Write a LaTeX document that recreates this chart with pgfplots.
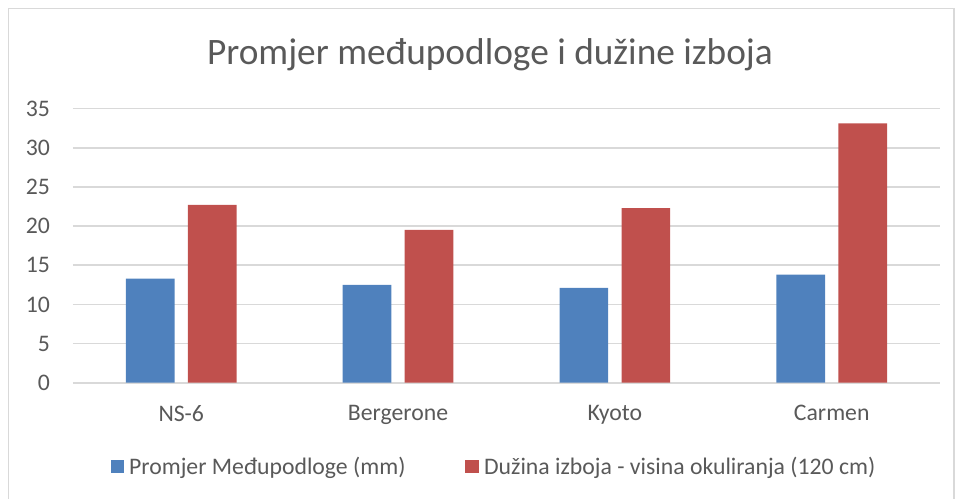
\documentclass[border=0pt]{standalone}
\usepackage{fontspec}
\setmainfont{Carlito}
\usepackage{pgfplots}
\pgfplotsset{compat=1.18}
\definecolor{cblue}{HTML}{4F81BD}
\definecolor{cred}{HTML}{C0504D}
\definecolor{gridc}{HTML}{D9D9D9}
\definecolor{txt}{HTML}{595959}
\begin{document}
\begin{tikzpicture}
\path[use as bounding box] (0pt,0pt) rectangle (717pt,374.25pt);
\draw[gridc, line width=1.2pt] (6.5pt,-2pt) -- (6.5pt,368pt) -- (715.5pt,368pt) -- (715.5pt,-2pt);
\node[txt, font=\fontsize{28}{32}\selectfont] at (367.5pt,333pt) {Promjer međupodloge i dužine izboja};
\begin{axis}[
  at={(54.6pt,87.2pt)}, anchor=south west,
  scale only axis, width=650.5pt, height=205.6pt,
  xmin=-0.5, xmax=3.5, ymin=0, ymax=35,
  ytick={0,5,...,35},
  xtick={0,1,2,3},
  xticklabels={NS-6,Bergerone,Kyoto,Carmen},
  major tick length=0pt,
  axis line style={draw=none},
  ymajorgrids, xmajorgrids=false, grid style={gridc, line width=1.2pt},
  ybar, bar width=36.5pt, ybar=10pt,
  /pgf/number format/assume math mode=true,
  tick label style={txt, font=\fontsize{17.8}{21}\selectfont, inner sep=0pt},
  yticklabel style={anchor=east, xshift=-17pt},
  xticklabel style={anchor=north, yshift=-16.5pt},
  legend columns=2,
  legend style={at={(0.4875,-0.3075)}, anchor=center, draw=none, fill=none,
    font=\fontsize{17.8}{21}\selectfont, text=txt,
    /tikz/every odd column/.append style={column sep=0pt},
    /tikz/every even column/.append style={column sep=41pt},
    nodes={inner xsep=4pt}},
  legend image code/.code={\fill[#1] (0pt,-4.8pt) rectangle (10pt,5.2pt);},
]
\addplot[fill=cblue, draw=none] coordinates {(0,13.3) (1,12.5) (2,12.1) (3,13.8)};
\addplot[fill=cred, draw=none] coordinates {(0,22.7) (1,19.5) (2,22.3) (3,33.1)};
\legend{Promjer Međupodloge (mm), Dužina izboja - visina okuliranja (120 cm)}
\end{axis}
\end{tikzpicture}
\end{document}
